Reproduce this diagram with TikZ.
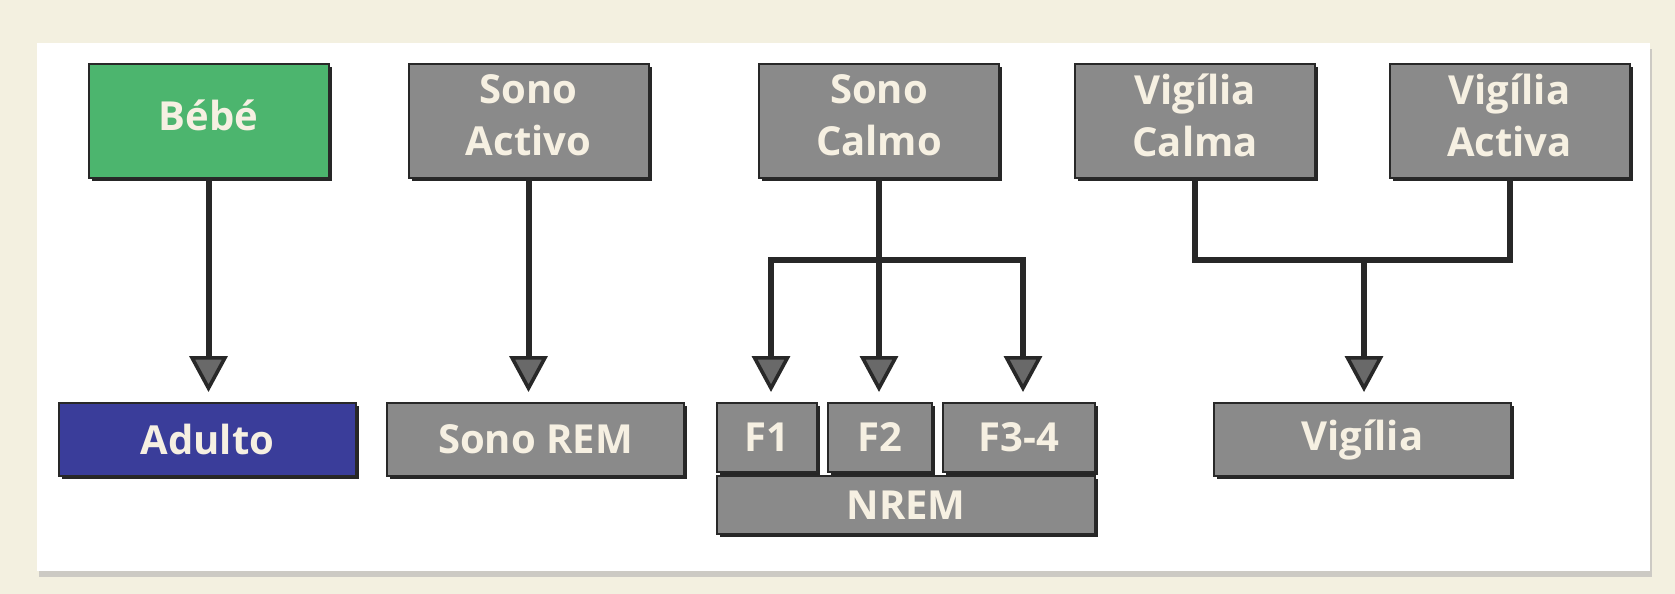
\documentclass[tikz,border=0pt]{standalone}
\usepackage{fontspec}
\setmainfont{Open Sans}
\usetikzlibrary{arrows.meta,shadows}
\definecolor{bgbeige}{RGB}{243,240,224}
\definecolor{boxgray}{RGB}{138,138,138}
\definecolor{headgray}{RGB}{105,105,105}
\definecolor{boxgreen}{RGB}{76,181,110}
\definecolor{boxblue}{RGB}{58,61,154}
\definecolor{linedark}{RGB}{40,40,40}
\definecolor{txtcream}{RGB}{246,240,226}

\begin{document}
\begin{tikzpicture}[x=0.5pt,y=-0.5pt,
    box/.style={draw=linedark,line width=1pt,fill=boxgray,text=txtcream,
      font=\bfseries\fontsize{20}{26}\selectfont,align=center,inner sep=0pt,
      drop shadow={shadow xshift=1.6pt,shadow yshift=-1.6pt,fill=black!85,opacity=1}},
    topbox/.style={box,minimum width=120pt,minimum height=57pt,
      execute at end node={\rule[-6pt]{0pt}{6pt}}},
    lowbox/.style={box,minimum width=148.5pt,minimum height=36.5pt},
    link/.style={draw=linedark,line width=3pt},
    arr/.style={link,shorten >=5pt,
      -{Triangle[length=18pt,width=19pt,fill=headgray,line width=1.8pt]}}]
  \useasboundingbox (0,0) rectangle (1675,594);
  \fill[bgbeige] (0,0) rectangle (1675,594);
  \fill[white,drop shadow={shadow xshift=1pt,shadow yshift=-3pt,fill=black!30,opacity=.6}]
    (37,43) rectangle (1650,571);

  % states
  \node[topbox,fill=boxgreen] (bebe) at (208.5,121) {Bébé};
  \node[topbox] (sact) at (528.5,121) {Sono\\Activo};
  \node[topbox] (scalm) at (879,121) {Sono\\Calmo};
  \node[topbox] (vcalm) at (1195,121) {Vigília\\Calma};
  \node[topbox] (vact) at (1509.5,121) {Vigília\\Activa};

  \node[lowbox,fill=boxblue] (adulto) at (207.5,439.5) {Adulto};
  \node[lowbox] (rem) at (535.5,439.5) {Sono REM};
  \node[box,minimum width=50pt,minimum height=34.5pt] (f1) at (767,437.5) {F1};
  \node[box,minimum width=52pt,minimum height=34.5pt] (f2) at (880,437.5) {F2};
  \node[box,minimum width=76pt,minimum height=34.5pt] (f34) at (1019,437.5) {F3-4};
  \node[box,minimum width=189pt,minimum height=29pt] (nrem) at (906,505) {NREM};
  \node[lowbox] (vig) at (1362.5,439.5) {Vigília};

  % connectors
  \draw[arr] (bebe.south) -- (bebe.south |- adulto.north);
  \draw[arr] (sact.south) -- (sact.south |- rem.north);
  \coordinate (sfork) at (879,260);
  \draw[link] (scalm.south) -- (sfork);
  \draw[arr] (sfork) -| ([xshift=2pt]f1.north);
  \draw[arr] (sfork) -- (sfork |- f2.north);
  \draw[arr] (sfork) -| ([xshift=2pt]f34.north);
  \coordinate (vjoin) at (1364,260);
  \draw[link] (vcalm.south) |- (vjoin) -| (vact.south);
  \draw[arr] (vjoin) -- (vjoin |- vig.north);
\end{tikzpicture}
\end{document}
